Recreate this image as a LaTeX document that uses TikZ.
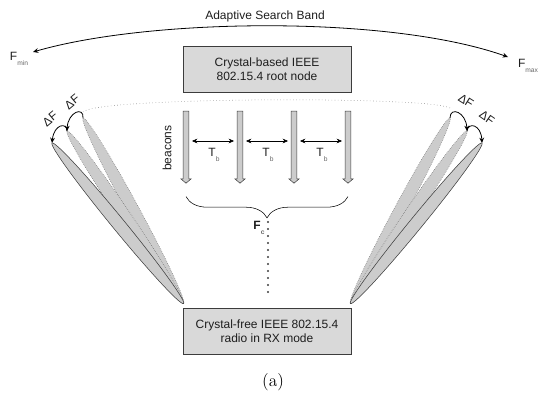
\documentclass[tikz,border=0pt]{standalone}
\usepackage{fontspec}
\newfontfamily\arial{Liberation Sans}
\usetikzlibrary{positioning,arrows.meta,calc,shapes.geometric,shapes.arrows,decorations.pathreplacing}
\definecolor{boxfill}{RGB}{217,217,217}
\definecolor{lobefill}{RGB}{204,204,204}
\definecolor{darkline}{RGB}{60,60,60}
\definecolor{inktext}{RGB}{30,30,30}
\newcommand{\lowsub}[1]{\raisebox{-0.8ex}{\fontsize{5}{5}\selectfont\color{gray!80!black}#1}}
\tikzset{
  radiobox/.style={draw=darkline, semithick, fill=boxfill, minimum width=126pt, minimum height=34.5pt,
                   align=center, font=\arial\fontsize{9}{10.5}\selectfont, text=inktext},
  lbl/.style={font=\arial\fontsize{9}{11}\selectfont, text=inktext, inner sep=1pt},
  boldlbl/.style={lbl, font=\arial\bfseries\fontsize{9}{11}\selectfont},
  dflbl/.style={lbl, inner sep=0pt},
  beacon/.style={single arrow, draw=darkline, fill=lobefill, thin, rotate=-90, minimum height=54pt,
                 inner xsep=0pt, inner ysep=1.9pt, single arrow head extend=1.7pt, single arrow tip angle=100},
  lobe/.style={ellipse, fill=lobefill, inner sep=0pt, minimum height=9.5pt, draw=gray!80!black, densely dotted},
  mainlobe/.style={lobe, draw=darkline, solid, thin},
  tb/.style={{Stealth[length=4pt,width=3.5pt]}-{Stealth[length=4pt,width=3.5pt]}, thin},
  band/.style={tb, semithick},
  dfarr/.style={-{Stealth[length=4pt,width=3.5pt]}, semithick},
  vdots/.style={line width=1.6pt, line cap=round, dash pattern=on 0pt off 5.25pt, darkline},
  edgedots/.style={dotted, gray!90!black}
}
\begin{document}
\begin{tikzpicture}[x=0.75pt, y=-0.75pt]
  \useasboundingbox (0,0) rectangle (538,397);

  \node[radiobox] (root) at (267,69) {Crystal-based IEEE\\802.15.4 root node};
  \node[radiobox] (radio) at (267,331) {Crystal-free IEEE 802.15.4\\radio in RX mode};

  % adaptive band
  \node[lbl] (bandlbl) at (265,16) {Adaptive Search Band};
  \node[lbl] (fmin) at (19,59) {F\lowsub{min}};
  \node[lbl] (fmax) at (528,66) {F\lowsub{max}};
  \coordinate (bandl) at (33,52);
  \coordinate (bandr) at (508,57);
  \draw[band] (bandl) .. controls (150,18) and (390,15) .. (bandr);

  % beacons
  \foreach \x/\n in {186/1,240/2,294/3,348/4}
    \node[beacon] (b\n) at (\x,146) {};
  \foreach \a/\b in {1/2,2/3,3/4} {
    \draw[tb] ([shift={(6,-5)}]b\a.center) -- ([shift={(-6,-5)}]b\b.center);
    \node[lbl] (t\a) at ($(b\a)!0.5!(b\b)+(1,9)$) {T\lowsub{b}};
  }
  \node[lbl, rotate=90] (bcn) at (167,148) {beacons};
  \draw[decorate, decoration={brace, mirror, amplitude=16pt}, thin]
    ($(b1.tip)+(0,13)$) -- ($(b4.tip)+(0,13)$);
  \node[boldlbl] (fc) at (259,228) {F\lowsub{c}};
  \coordinate (ftop) at (268,222);
  \draw[vdots] (ftop) -- ([yshift=8pt]ftop |- radio.north);

  % antenna lobes
  \coordinate (lo) at ($(radio.north west)+(1,-4)$);
  \coordinate (ro) at ($(radio.north east)+(-1,-4)$);
  \coordinate (l1) at (52,143);
  \coordinate (l2) at (67,131);
  \coordinate (l3) at (83,118);
  \coordinate (r1) at (482,143);
  \coordinate (r2) at (467,131);
  \coordinate (r3) at (450,118);
  \foreach \t in {l3,l2}
    \path let \p1=($(\t)-(lo)$), \n1={atan2(\y1,\x1)}, \n2={veclen(\x1,\y1)} in
      node[lobe, rotate=\n1, minimum width=\n2] at ($(lo)!0.5!(\t)$) {};
  \path let \p1=($(l1)-(lo)$), \n1={atan2(\y1,\x1)}, \n2={veclen(\x1,\y1)} in
    node[mainlobe, rotate=\n1, minimum width=\n2] at ($(lo)!0.5!(l1)$) {};
  \foreach \t in {r3,r2}
    \path let \p1=($(\t)-(ro)$), \n1={atan2(\y1,\x1)}, \n2={veclen(\x1,\y1)} in
      node[lobe, rotate=\n1, minimum width=\n2] at ($(ro)!0.5!(\t)$) {};
  \path let \p1=($(r1)-(ro)$), \n1={atan2(\y1,\x1)}, \n2={veclen(\x1,\y1)} in
    node[mainlobe, rotate=\n1, minimum width=\n2] at ($(ro)!0.5!(r1)$) {};

  \draw[edgedots] (83,112) .. controls (95,97) and (430,96) .. (450,108);

  % frequency steps
  \draw[dfarr] (l3) .. controls +(1,-12) and +(1,-19) .. (l2);
  \draw[dfarr] (l2) .. controls +(0,-9) and +(2,-19) .. (l1);
  \draw[dfarr] (r3) .. controls +(0,-12) and +(-1,-19) .. (r2);
  \draw[dfarr] (r2) .. controls +(1,-9) and +(-1,-19) .. (r1);
  \node[dflbl, rotate=40] (dfl1) at (50,119) {ΔF};
  \node[dflbl, rotate=40] (dfl2) at (72,102) {ΔF};
  \node[dflbl, rotate=-32] (dfr1) at (466,101) {ΔF};
  \node[dflbl, rotate=-35] (dfr2) at (487,118) {ΔF};

  \node[font=\fontsize{13}{15}\selectfont] (cap) at (273,382) {(a)};
\end{tikzpicture}
\end{document}
